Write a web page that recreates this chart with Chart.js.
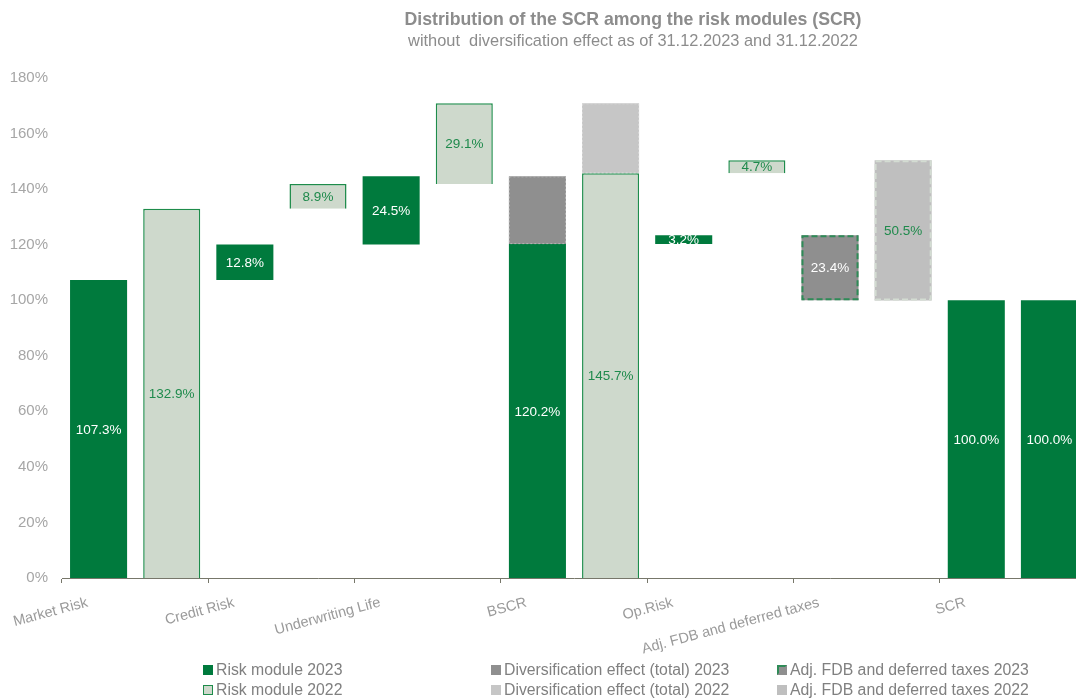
<!DOCTYPE html>
<html>
<head>
<meta charset="utf-8">
<script src="https://cdn.jsdelivr.net/npm/chart.js@4.4.1/dist/chart.umd.min.js"></script>
<style>
  html, body { margin: 0; padding: 0; background: #fff; }
  body { width: 1076px; height: 700px; overflow: hidden; position: relative; font-family: "Liberation Sans", Arial, sans-serif; }
  #wrap { position: absolute; left: 0; top: 0; width: 1076px; height: 700px; overflow: hidden; }
  canvas { position: absolute; left: 0; top: 0; }
  .title { position: absolute; left: 283px; width: 700px; text-align: center; color: #8C8C8C; white-space: pre; }
  #t1 { top: 9px; font-size: 17.7px; font-weight: bold; }
  #t2 { top: 31px; font-size: 16.4px; }
  .leg { position: absolute; font-size: 15.8px; color: #808080; white-space: nowrap; line-height: 18px; }
  .mk { position: absolute; width: 10px; height: 10px; box-sizing: border-box; }
</style>
</head>
<body>
<div id="wrap">
  <canvas id="c" width="1090" height="700"></canvas>
</div>
<div class="title" id="t1">Distribution of the SCR among the risk modules (SCR)</div>
<div class="title" id="t2">without  diversification effect as of 31.12.2023 and 31.12.2022</div>
<div id="legend"></div>
<script>
// ---- data ----
const categories = ["Market Risk", "", "Credit Risk", "", "Underwriting Life", "", "BSCR", "", "Op.Risk", "", "Adj. FDB and deferred taxes", "", "SCR", ""];
const yTicks = [0, 20, 40, 60, 80, 100, 120, 140, 160, 180];
// Market, Credit, Underwriting Life
const modules2023 = [107.3, 12.8, 24.5];
const modules2022 = [132.9, 8.9, 29.1];
const bscr2023 = 120.2;
const bscr2022 = 145.7;
const opRisk2023 = 3.2;
const opRisk2022 = 4.7;
const adjFdb2023 = 23.4;
const adjFdb2022 = 50.5;
const scr2023 = 100.0;
const scr2022 = 100.0;
const legendLabels = ["Risk module 2023", "Diversification effect (total) 2023", "Adj. FDB and deferred taxes 2023",
                      "Risk module 2022", "Diversification effect (total) 2022", "Adj. FDB and deferred taxes 2022"];

// ---- build floating ranges ----
const N = categories.length;
const empty = () => new Array(N).fill(null);
const rm23 = empty(), rm22 = empty(), div23 = empty(), div22 = empty(), adj23 = empty(), adj22 = empty(), scr = empty();
let s23 = 0, s22 = 0;
modules2023.forEach((v, i) => { rm23[i * 2] = [s23, s23 + v]; s23 += v; });
modules2022.forEach((v, i) => { rm22[i * 2 + 1] = [s22, s22 + v]; s22 += v; });
rm23[6] = [0, bscr2023];
rm22[7] = [0, bscr2022];
div23[6] = [bscr2023, s23];
div22[7] = [bscr2022, s22];
rm23[8] = [bscr2023, bscr2023 + opRisk2023];
rm22[9] = [bscr2022, bscr2022 + opRisk2022];
const top23 = bscr2023 + opRisk2023, top22 = bscr2022 + opRisk2022;
adj23[10] = [top23 - adjFdb2023, top23];
adj22[11] = [top22 - adjFdb2022, top22];
scr[12] = [0, scr2023];
scr[13] = [0, scr2022];

const DARK = '#007A3D', LIGHT = '#CED9CC', LBORDER = '#1E8C4B', G1 = '#8F8F8F', G2 = '#C6C6C6', G3 = '#BFBFBF';
const WHITE = '#FFFFFF', GTXT = '#1F8A4C';

const datasets = [
  { label: legendLabels[0], data: rm23, backgroundColor: DARK, borderWidth: 0, lblColor: WHITE },
  { label: legendLabels[3], data: rm22, backgroundColor: LIGHT, borderColor: LBORDER, borderWidth: 1.5, lblColor: GTXT },
  { label: legendLabels[1], data: div23, backgroundColor: G1, borderWidth: 0, dash: { color: '#B5B5B5', width: 1, pattern: [2, 2] } },
  { label: legendLabels[4], data: div22, backgroundColor: G2, borderWidth: 0, dash: { color: '#D8D8D8', width: 1, pattern: [2, 2] } },
  { label: legendLabels[2], data: adj23, backgroundColor: G1, borderWidth: 0, lblColor: WHITE, dash: { color: '#2E8B57', width: 2, pattern: [6, 3] } },
  { label: legendLabels[5], data: adj22, backgroundColor: G3, borderWidth: 0, lblColor: GTXT, dash: { color: '#D3DCD2', width: 2, pattern: [6, 3] } },
  { label: 'SCR', data: scr, backgroundColor: DARK, borderWidth: 0, lblColor: WHITE }
];

const barExtras = {
  id: 'barExtras',
  afterDatasetsDraw(chart) {
    const ctx = chart.ctx;
    ctx.save();
    chart.data.datasets.forEach((ds, di) => {
      const meta = chart.getDatasetMeta(di);
      meta.data.forEach((el, i) => {
        const v = ds.data[i];
        if (!v) return;
        const p = el.getProps(['x', 'y', 'base', 'width'], true);
        const left = p.x - p.width / 2, top = Math.min(p.y, p.base), h = Math.abs(p.base - p.y);
        if (ds.dash) {
          ctx.setLineDash(ds.dash.pattern);
          ctx.lineWidth = ds.dash.width;
          ctx.strokeStyle = ds.dash.color;
          const o = ds.dash.width / 2;
          ctx.strokeRect(left + o, top + o, p.width - 2 * o, h - 2 * o);
          ctx.setLineDash([]);
        }
        if (ds.lblColor) {
          ctx.fillStyle = ds.lblColor;
          ctx.font = '13.5px "Liberation Sans", Arial, sans-serif';
          ctx.textAlign = 'center';
          ctx.textBaseline = 'middle';
          ctx.fillText((v[1] - v[0]).toFixed(1) + '%', p.x, top + h / 2 + 1);
        }
      });
    });
    ctx.restore();
  }
};

new Chart(document.getElementById('c'), {
  type: 'bar',
  data: { labels: categories, datasets },
  options: {
    responsive: false,
    animation: false,
    devicePixelRatio: 1,
    categoryPercentage: 1.0,
    barPercentage: 0.78,
    layout: { padding: { top: 78, bottom: 42, left: 0, right: 4 } },
    plugins: { legend: { display: false }, tooltip: { enabled: false }, title: { display: false } },
    scales: {
      x: {
        stacked: true,
        offset: true,
        afterFit: (a) => { a.height = 80; },
        border: { display: true, color: '#77776A', width: 1 },
        grid: {
          display: true, offset: true, drawOnChartArea: false, drawTicks: true, tickLength: 5,
          tickColor: (c) => (c.index % 2 === 0 ? '#77776A' : 'rgba(0,0,0,0)'),
          color: 'rgba(0,0,0,0)'
        },
        ticks: {
          autoSkip: false, maxRotation: 15, minRotation: 15, labelOffset: -11, padding: 11,
          color: '#9A9A9A', font: { size: 14.5, family: '"Liberation Sans", Arial, sans-serif' }
        }
      },
      y: {
        stacked: false,
        min: yTicks[0], max: yTicks[yTicks.length - 1],
        afterFit: (a) => { a.width = 62; },
        afterBuildTicks: (a) => { a.ticks = yTicks.map(v => ({ value: v })); },
        border: { display: false },
        grid: { display: false, drawTicks: false },
        ticks: {
          padding: 14, color: '#A6A6A6',
          font: { size: 15, family: '"Liberation Sans", Arial, sans-serif' },
          callback: (v) => v + '%'
        }
      }
    }
  },
  plugins: [barExtras]
});

// ---- HTML legend ----
const legendItems = [
  { t: legendLabels[0], x: 203, y: 670, st: 'background:' + DARK },
  { t: legendLabels[1], x: 491, y: 670, st: 'background:' + G1 },
  { t: legendLabels[2], x: 777, y: 670, st: 'background:' + G1 + ';border:2px solid #2E8B57;border-right-color:' + G1 + ';border-bottom-color:' + G1 },
  { t: legendLabels[3], x: 203, y: 690, st: 'background:' + LIGHT + ';border:1.5px solid ' + LBORDER },
  { t: legendLabels[4], x: 491, y: 690, st: 'background:' + G2 },
  { t: legendLabels[5], x: 777, y: 690, st: 'background:' + G3 }
];
const lg = document.getElementById('legend');
legendItems.forEach(it => {
  const m = document.createElement('div');
  m.className = 'mk';
  m.style.cssText = 'left:' + it.x + 'px;top:' + (it.y - 5) + 'px;' + it.st;
  lg.appendChild(m);
  const t = document.createElement('div');
  t.className = 'leg';
  t.style.left = (it.x + 13) + 'px';
  t.style.top = (it.y - 9) + 'px';
  t.textContent = it.t;
  lg.appendChild(t);
});
</script>
</body>
</html>
